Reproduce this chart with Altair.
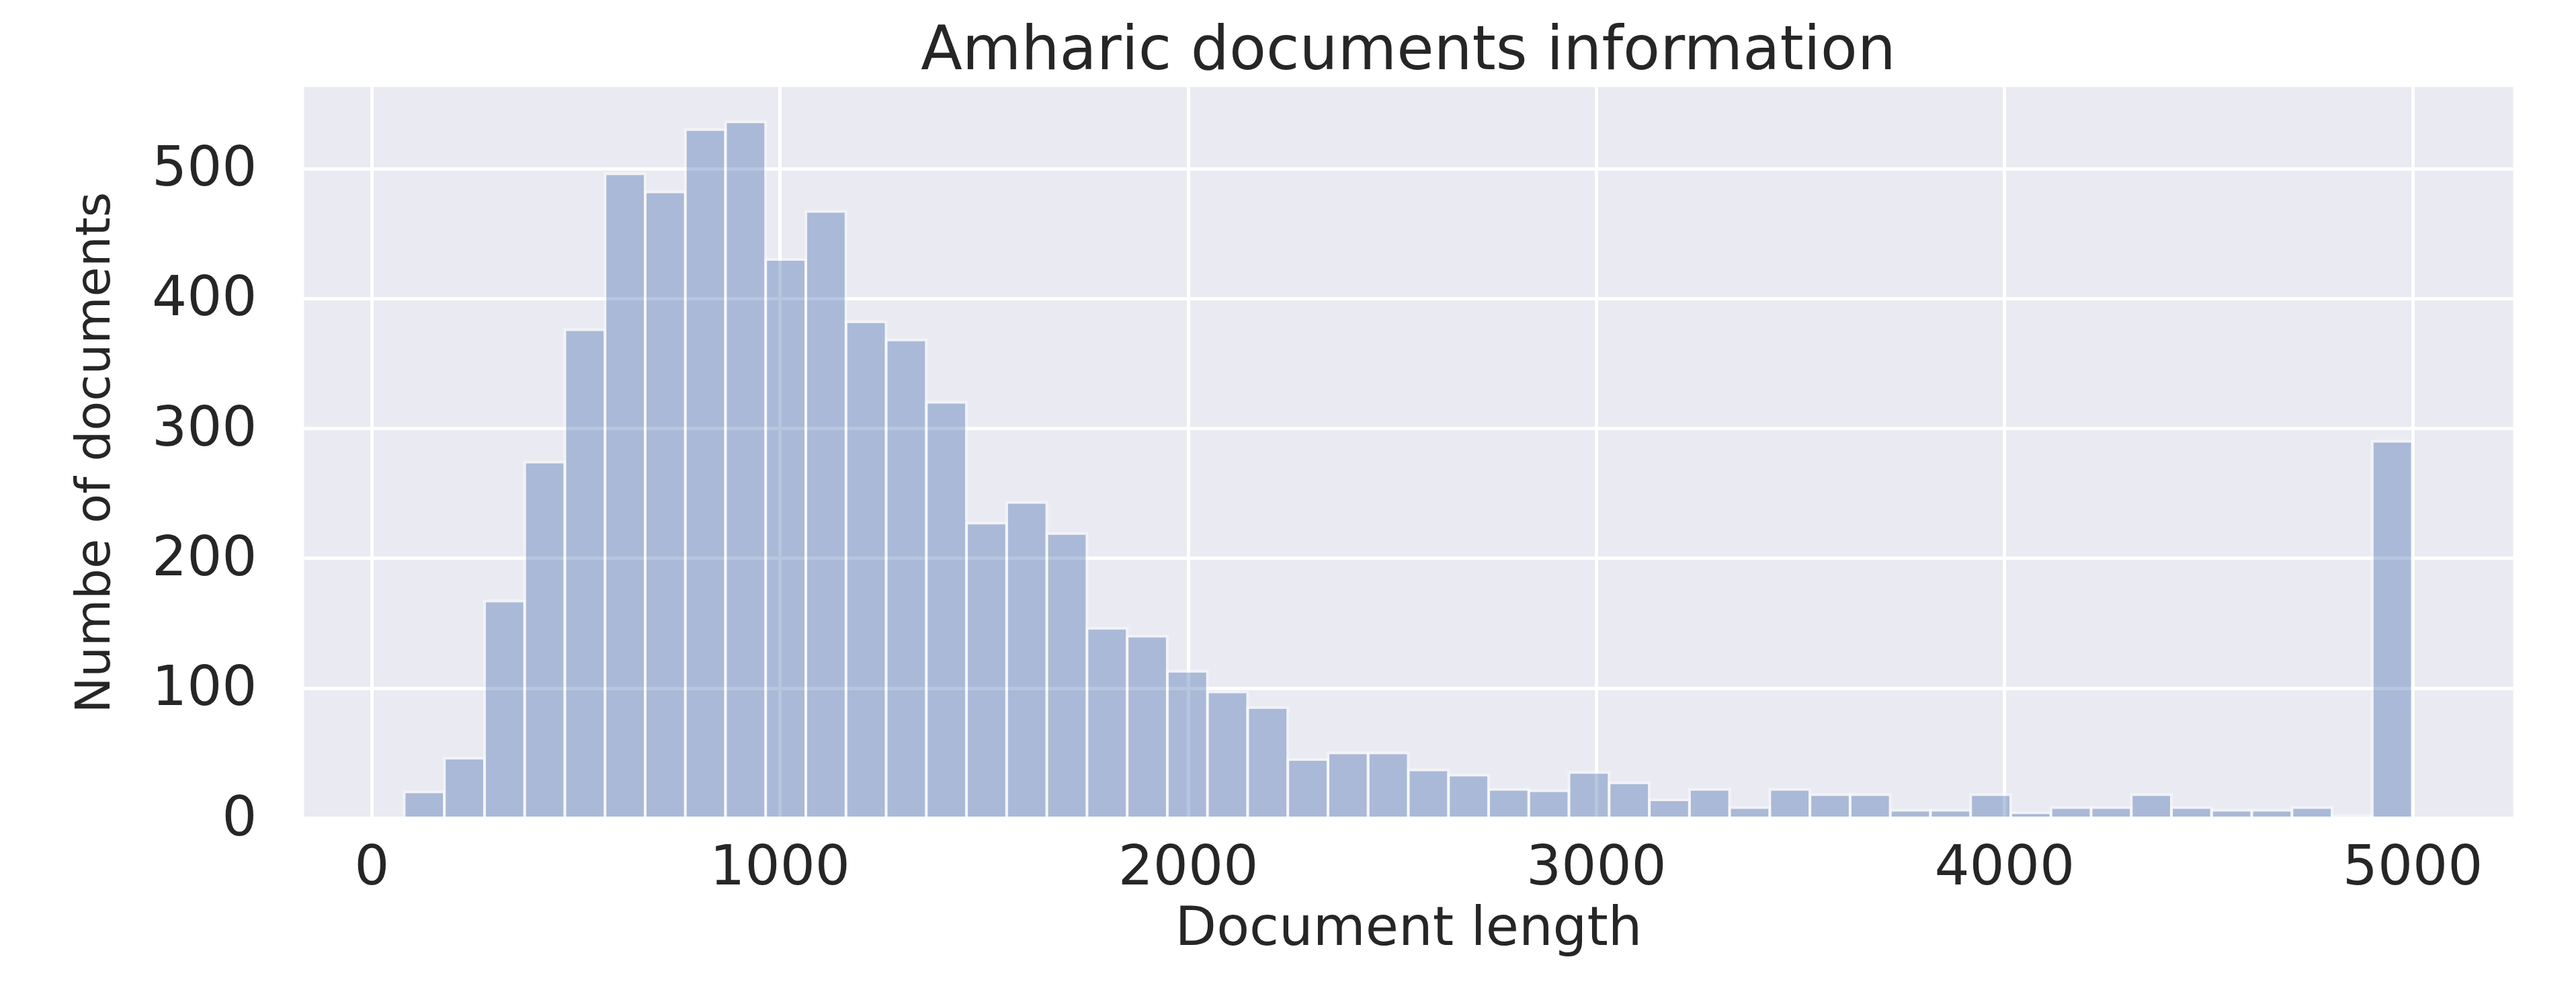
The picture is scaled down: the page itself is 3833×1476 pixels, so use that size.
import altair as alt
import pandas as pd

# Histogram of Amharic document lengths (50 bins)
counts = [20, 46, 167, 274, 376, 496, 482, 530, 536, 430,
          467, 382, 368, 320, 227, 243, 219, 146, 140, 113,
          97, 85, 45, 50, 50, 37, 33, 22, 21, 35,
          27, 14, 22, 8, 22, 18, 18, 6, 6, 18,
          4, 8, 8, 18, 8, 6, 6, 8, 2, 290]
bin_min = 80
bin_max = 5000
x_ticks = [0, 1000, 2000, 3000, 4000, 5000]
y_ticks = [0, 100, 200, 300, 400, 500]

n = len(counts)
w = (bin_max - bin_min) / n
df = pd.DataFrame({
    "start": [bin_min + i * w for i in range(n)],
    "end": [bin_min + (i + 1) * w for i in range(n)],
    "count": counts,
})

W, H = 3287, 1088
FONT = "DejaVu Sans"
TXT = "#262626"

bars = alt.Chart(df).mark_rect(
    fill="#4C72B0", stroke="white", strokeWidth=4, opacity=0.4
).encode(
    x=alt.X("start:Q",
            scale=alt.Scale(domain=[-166, 5246], nice=False, zero=False),
            axis=alt.Axis(values=x_ticks, format="d", grid=True, gridColor="white", gridWidth=5,
                          domain=False, ticks=False, tickSize=0,
                          labelFont=FONT, labelFontSize=82, labelColor=TXT, labelLimit=0,
                          labelPadding=98, labelBaseline="alphabetic", labelFlush=False,
                          title="Document length", titleFont=FONT, titleFontSize=80,
                          titleFontWeight="normal", titleColor=TXT,
                          titleBaseline="alphabetic", titleAlign="center",
                          titleX=W / 2, titleY=188)),
    x2="end:Q",
    y=alt.Y("count:Q",
            scale=alt.Scale(domain=[0, 563], nice=False),
            axis=alt.Axis(values=y_ticks, format="d", grid=True, gridColor="white", gridWidth=5,
                          domain=False, ticks=False, tickSize=0,
                          labelFont=FONT, labelFontSize=82, labelColor=TXT, labelLimit=0,
                          labelPadding=70, labelBaseline="middle",
                          title="Numbe of documents", titleFont=FONT, titleFontSize=72,
                          titleFontWeight="normal", titleColor=TXT,
                          titleAngle=270, titleBaseline="alphabetic", titleAlign="center",
                          titleX=-290, titleY=H / 2)),
    y2=alt.datum(0),
)

chart = bars.properties(
    width=W, height=H,
    title=alt.TitleParams("Amharic documents information", font=FONT, fontSize=90,
                          fontWeight="normal", color=TXT, anchor="middle",
                          baseline="alphabetic", offset=29, dy=93),
    autosize=alt.AutoSizeParams(type="none"),
    padding={"left": 444, "top": 121, "right": 60, "bottom": 240},
).configure_view(stroke="transparent", fill="#EAEAF2")

chart.save("out.html", embed_options={"renderer": "svg", "actions": False})
